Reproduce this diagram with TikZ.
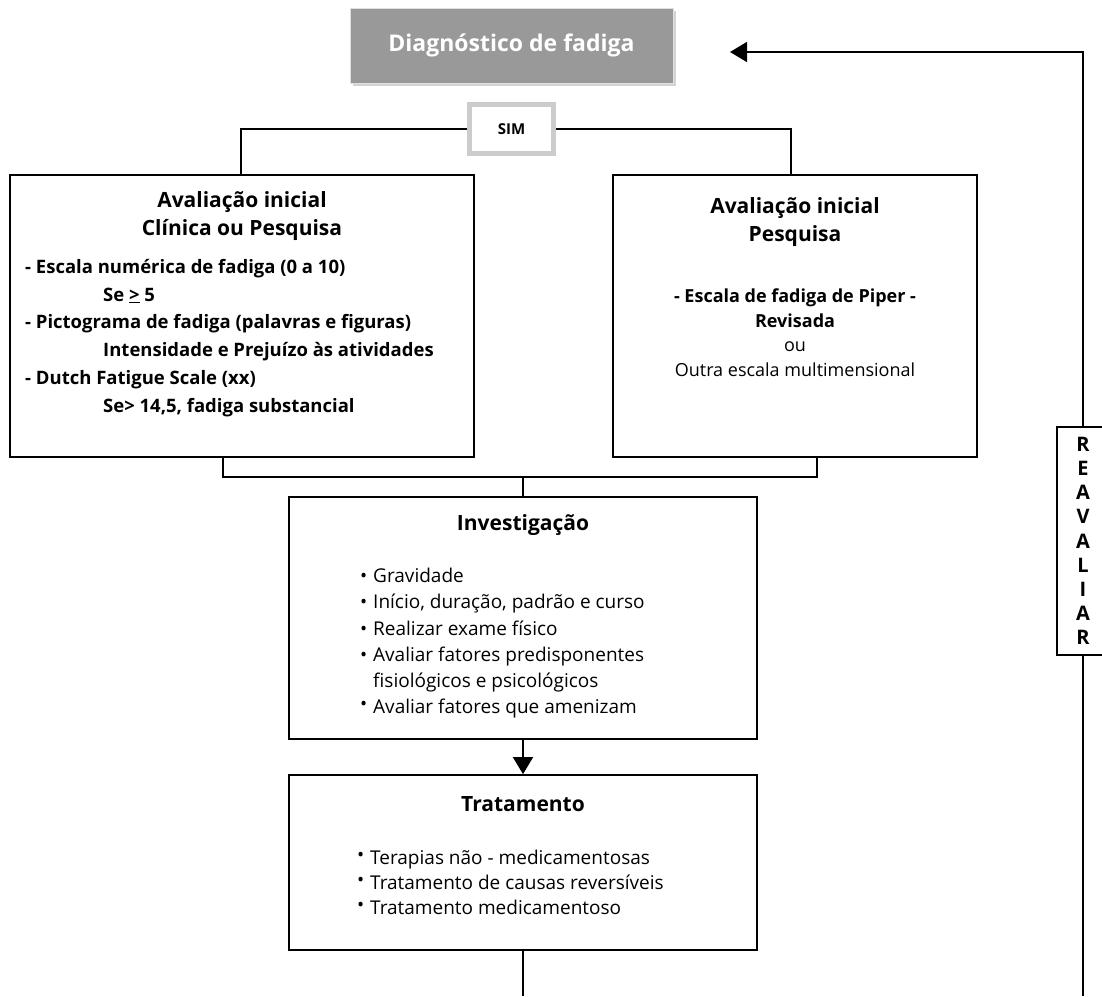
\documentclass[tikz,border=0pt]{standalone}
\usepackage{fontspec}
\setmainfont{Open Sans}
\usetikzlibrary{positioning,arrows.meta,shadows}
\tikzset{
  caixa/.style={rectangle, draw=black, line width=1.7pt, fill=white, inner sep=0pt},
  diagbox/.style={rectangle, draw=black!12, line width=0.8pt, fill=black!40, text=white,
    font=\fontsize{23}{26}\selectfont\bfseries, inner sep=0pt,
    minimum width=323pt, minimum height=75pt,
    drop shadow={opacity=0.35, shadow xshift=3pt, shadow yshift=-3pt}},
  simbox/.style={rectangle, draw=black!20, line width=5pt, fill=white,
    font=\fontsize{15}{17}\selectfont\bfseries, inner sep=0pt,
    minimum width=84pt, minimum height=49pt},
  titulo/.style={font=\fontsize{21}{28}\selectfont\bfseries, align=center, inner sep=0pt},
  lista/.style={font=\fontsize{18.5}{27.8}\selectfont\bfseries, align=left, inner sep=0pt},
  topicos/.style={font=\fontsize{19}{26.2}\selectfont, align=left, inner sep=0pt},
  liga/.style={draw=black, line width=1.5pt},
  seta/.style={liga, -{Triangle[length=17pt,width=20pt]}},
}
\newcommand{\topico}{\makebox[13pt][l]{\textbullet}}
\newcommand{\topicoalto}{\makebox[13pt][l]{\raisebox{3pt}{\textbullet}}}

\begin{document}
\begin{tikzpicture}[x=1pt,y=-1pt]
\useasboundingbox (0,0) rectangle (1102,996);
% ---- topo ----
\node[diagbox] (diag) at (511.5,45.5) {Diagnóstico de fadiga};
\node[simbox] (sim) at (511.5,129) {SIM};
% ---- avaliacao inicial ----
\node[caixa, minimum width=464pt, minimum height=282pt] (aval1) at (242,316) {};
\node[titulo, below=17pt of aval1.north] (aval1t) {Avaliação inicial\\Clínica ou Pesquisa};
\node[lista, anchor=north west] (aval1l) at (25,259) {%
  - Escala numérica de fadiga (0 a 10)\\
  \hspace*{78pt}Se \underline{>} 5\\
  - Pictograma de fadiga (palavras e figuras)\\
  \hspace*{78pt}Intensidade e Prejuízo às atividades\\
  - Dutch Fatigue Scale (xx)\\
  \hspace*{78pt}Se> 14,5, fadiga substancial};
\node[caixa, minimum width=364pt, minimum height=282pt] (aval2) at (795,316) {};
\node[titulo, below=23pt of aval2.north] (aval2t) {Avaliação inicial\\Pesquisa};
\node[titulo, font=\fontsize{18}{24.5}\selectfont, anchor=north] (aval2l) at (795,289) {%
  \textbf{- Escala de fadiga de Piper -}\\
  \textbf{Revisada}\\
  \mdseries ou\\
  \mdseries Outra escala multimensional};
% ---- investigacao ----
\node[caixa, minimum width=468pt, minimum height=242pt] (inv) at (523,618) {};
\node[titulo, below=18pt of inv.north] (invt) {Investigação};
\node[topicos, anchor=north west] (invl) at (360,568) {%
  \topico Gravidade\\
  \topico Início, duração, padrão e curso\\
  \topico Realizar exame físico\\
  \topico Avaliar fatores predisponentes\\
  \hspace*{13pt}fisiológicos e psicológicos\\
  \topicoalto Avaliar fatores que amenizam};
% ---- tratamento ----
\node[caixa, minimum width=468pt, minimum height=175pt] (trat) at (523,862.5) {};
\node[titulo, below=22pt of trat.north] (tratt) {Tratamento};
\node[topicos, font=\fontsize{19}{25}\selectfont, anchor=north west] (tratl) at (357,850) {%
  \topicoalto Terapias não - medicamentosas\\
  \topicoalto Tratamento de causas reversíveis\\
  \topicoalto Tratamento medicamentoso};
% ---- reavaliar ----
\node[caixa, minimum width=52pt, minimum height=228pt,
  font=\fontsize{20}{24.2}\selectfont\bfseries, align=center] (reav) at (1083,541)
  {R\\E\\A\\V\\A\\L\\I\\A\\R};
\coordinate (ponta) at (730,52);
\coordinate (junta) at (523,477);
\coordinate (fimr) at (1083,996);
\coordinate (fimt) at (523,996);
% ---- ligacoes ----
\draw[liga] (sim.west) -| ([xshift=-1pt]aval1.north);
\draw[liga] (sim.east) -| ([xshift=-4pt]aval2.north);
\draw[liga] ([xshift=-19pt]aval1.south) |- (junta) -| ([xshift=22pt]aval2.south);
\draw[liga] (junta) -- (inv.north);
\draw[seta] (inv.south) -- (trat.north);
\draw[liga] (trat.south) -- (fimt);
\draw[liga] (reav.south) -- (fimr);
\draw[seta] (reav.north) |- (ponta);
\end{tikzpicture}
\end{document}
